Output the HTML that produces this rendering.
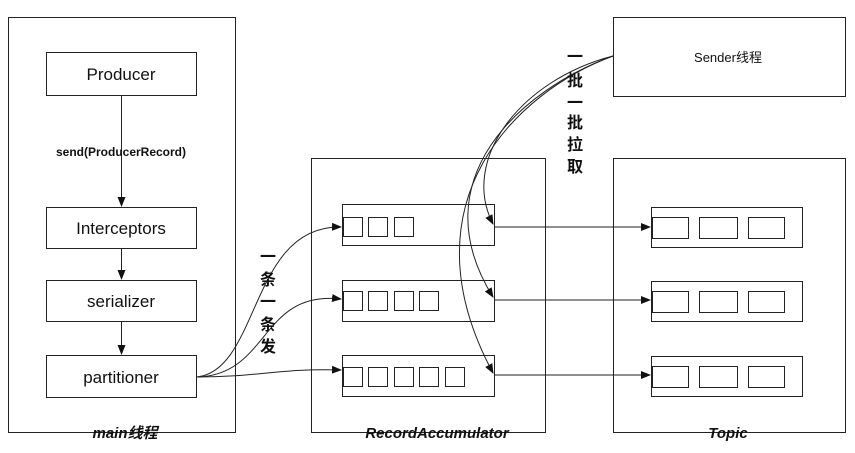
<!DOCTYPE html>
<html><head><meta charset="utf-8"><style>
body{margin:0;background:#fff;}
svg text{font-family:"Liberation Sans","Noto Sans CJK SC",sans-serif;}
</style></head><body>
<svg width="855" height="448" xmlns="http://www.w3.org/2000/svg">
<defs><marker id="a" markerWidth="10" markerHeight="8" refX="9" refY="4" orient="auto" markerUnits="userSpaceOnUse"><path d="M0,0 L10,4 L0,8 z" fill="#111"/></marker></defs>
<g fill="none" stroke="#222" stroke-width="1">
<rect x="8.5" y="17.5" width="227" height="415"/>
<rect x="46.5" y="52.5" width="150" height="43"/>
<rect x="46.5" y="207.5" width="150" height="41"/>
<rect x="46.5" y="280.5" width="150" height="41"/>
<rect x="46.5" y="355.5" width="150" height="42"/>
<line x1="121.5" y1="95" x2="121.5" y2="206" marker-end="url(#a)"/>
<line x1="121.5" y1="248" x2="121.5" y2="279" marker-end="url(#a)"/>
<line x1="121.5" y1="321" x2="121.5" y2="354" marker-end="url(#a)"/>
<rect x="311.5" y="158.5" width="234" height="274"/>
<rect x="342.5" y="204.5" width="152" height="41"/>
<rect x="342.5" y="280.5" width="152" height="41"/>
<rect x="342.5" y="355.5" width="152" height="41"/>
<rect x="343.5" y="217.5" width="19" height="19"/><rect x="368.5" y="217.5" width="19" height="19"/><rect x="394.5" y="217.5" width="19" height="19"/>
<rect x="343.5" y="291.5" width="19" height="19"/><rect x="368.5" y="291.5" width="19" height="19"/><rect x="394.5" y="291.5" width="19" height="19"/><rect x="419.5" y="291.5" width="19" height="19"/>
<rect x="343.5" y="367.5" width="19" height="19"/><rect x="368.5" y="367.5" width="19" height="19"/><rect x="394.5" y="367.5" width="19" height="19"/><rect x="419.5" y="367.5" width="19" height="19"/><rect x="445.5" y="367.5" width="19" height="19"/>
<rect x="613.5" y="17.5" width="232" height="79"/>
<rect x="613.5" y="158.5" width="232" height="274"/>
<rect x="651.5" y="207.5" width="151" height="40"/>
<rect x="651.5" y="281.5" width="151" height="40"/>
<rect x="651.5" y="356.5" width="151" height="40"/>
<rect x="652.5" y="217.5" width="36" height="21"/><rect x="699.5" y="217.5" width="38" height="21"/><rect x="748.5" y="217.5" width="36" height="21"/>
<rect x="652.5" y="291.5" width="36" height="21"/><rect x="699.5" y="291.5" width="38" height="21"/><rect x="748.5" y="291.5" width="36" height="21"/>
<rect x="652.5" y="366.5" width="36" height="21"/><rect x="699.5" y="366.5" width="38" height="21"/><rect x="748.5" y="366.5" width="36" height="21"/>
<line x1="494" y1="227" x2="650" y2="227" marker-end="url(#a)"/>
<line x1="494" y1="300" x2="650" y2="300" marker-end="url(#a)"/>
<line x1="494" y1="375" x2="650" y2="375" marker-end="url(#a)"/>
<path d="M197,377 C260,370 250,225 341,227" marker-end="url(#a)"/>
<path d="M197,377 C270,375 260,290 341,299" marker-end="url(#a)"/>
<path d="M197,377 C260,377 280,368 341,370" marker-end="url(#a)"/>
<path d="M613,56 C520,80 460,160 493,224" marker-end="url(#a)"/>
<path d="M613,56 C520,90 420,180 493,297" marker-end="url(#a)"/>
<path d="M613,56 C520,90 400,200 493,373" marker-end="url(#a)"/>
</g>
<g fill="#111" font-size="17" text-anchor="middle">
<text x="121" y="80">Producer</text>
<text x="121" y="234">Interceptors</text>
<text x="121" y="307">serializer</text>
<text x="121" y="383">partitioner</text>
<text x="121" y="156" font-size="12" font-weight="bold">send(ProducerRecord)</text>
<text x="728" y="62" font-size="13">Sender线程</text>
<text x="125" y="438" font-size="15" font-weight="bold" font-style="italic">main线程</text>
<text x="437" y="438" font-size="15" font-weight="bold" font-style="italic">RecordAccumulator</text>
<text x="728" y="438" font-size="15" font-weight="bold" font-style="italic">Topic</text>
<g font-size="16" font-weight="bold">
<text x="575" y="62">一</text><text x="575" y="86">批</text><text x="575" y="108">一</text><text x="575" y="128">批</text><text x="575" y="150">拉</text><text x="575" y="172">取</text>
<text x="268" y="262">一</text><text x="268" y="285">条</text><text x="268" y="307">一</text><text x="268" y="330">条</text><text x="268" y="352">发</text>
</g>
</g>
</svg>
</body></html>
